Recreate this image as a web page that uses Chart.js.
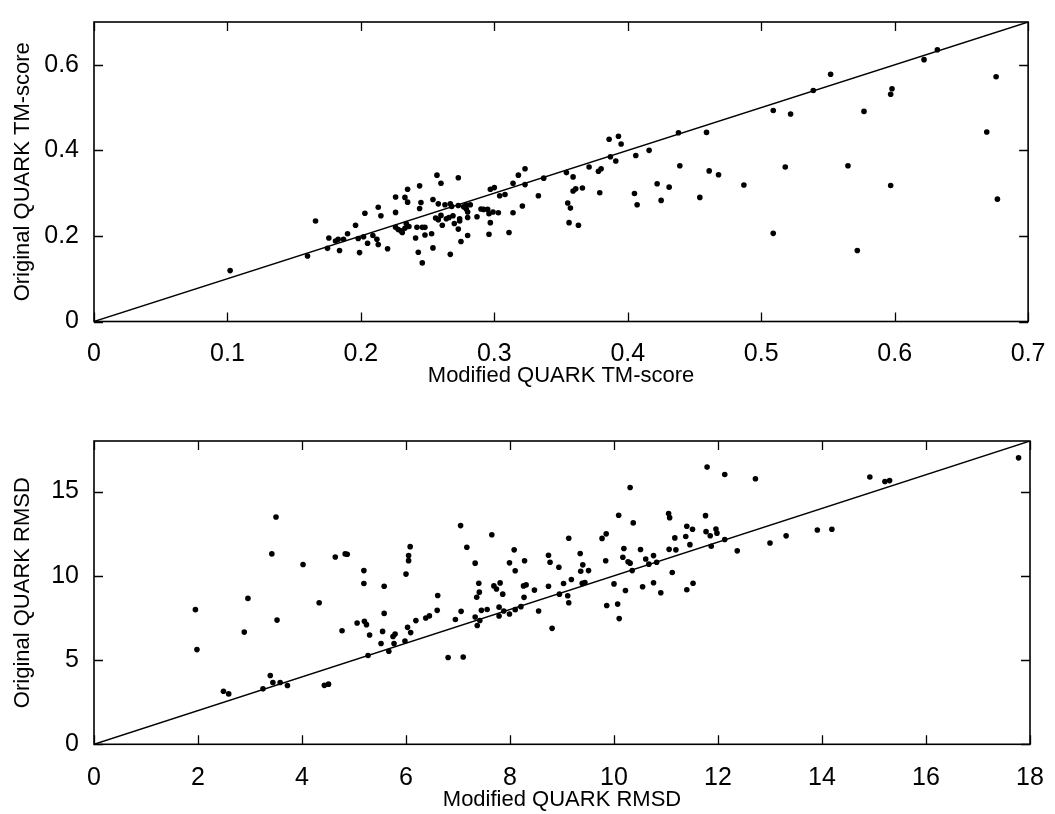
<!DOCTYPE html>
<html>
<head>
<meta charset="utf-8">
<script src="https://cdn.jsdelivr.net/npm/chart.js@4/dist/chart.umd.min.js"></script>
<style>
  html, body { margin: 0; padding: 0; background: #fff; }
  #wrap { position: relative; width: 1055px; height: 814px; background: #fff; }
  canvas { position: absolute; left: 0; }
</style>
</head>
<body>
<div id="wrap">
  <canvas id="top" width="1055" height="400" style="top:0px"></canvas>
  <canvas id="bottom" width="1055" height="414" style="top:400px"></canvas>
</div>
<script>
// ---------- TM-score panel ----------
const tmModified = [
  0.102,0.160,0.166,0.175,0.176,0.181,0.184,0.183,0.187,0.190,0.196,0.198,0.199,0.202,0.203,0.205,0.209,0.212,0.213,0.213,
  0.215,0.220,0.226,0.226,0.226,0.228,0.230,0.231,0.233,0.233,0.235,0.235,0.234,0.236,0.241,0.243,0.244,0.245,0.244,0.242,
  0.246,0.248,0.246,0.248,0.253,0.254,0.254,0.256,0.258,0.257,0.258,0.260,0.260,0.261,0.263,0.264,0.266,0.267,0.267,0.268,
  0.269,0.270,0.273,0.273,0.273,0.274,0.274,0.275,0.277,0.279,0.279,0.280,0.280,0.282,0.280,0.287,0.290,0.292,0.295,0.296,
  0.297,0.296,0.297,0.300,0.299,0.303,0.304,0.308,0.311,0.314,0.314,0.318,0.321,0.323,0.323,0.333,0.337,0.354,0.355,0.356,
  0.357,0.359,0.359,0.361,0.363,0.366,0.371,0.378,0.380,0.379,0.386,0.387,0.391,0.393,0.395,0.405,0.406,0.407,0.416,0.422,
  0.425,0.431,0.438,0.439,0.454,0.459,0.461,0.468,0.487,0.509,0.509,0.518,0.522,0.539,0.552,0.565,0.572,0.577,0.597,0.597,
  0.598,0.622,0.632,0.669,0.676,0.677
];
const tmOriginal = [
  0.119,0.153,0.235,0.171,0.195,0.188,0.166,0.192,0.192,0.205,0.225,0.194,0.161,0.198,0.253,0.183,0.201,0.192,0.267,0.180,
  0.247,0.170,0.291,0.255,0.220,0.215,0.212,0.208,0.218,0.290,0.309,0.279,0.229,0.222,0.195,0.162,0.317,0.278,0.264,0.220,
  0.220,0.220,0.137,0.202,0.205,0.285,0.172,0.242,0.238,0.342,0.275,0.323,0.248,0.225,0.273,0.240,0.243,0.157,0.275,0.269,
  0.247,0.229,0.216,0.336,0.271,0.240,0.235,0.187,0.268,0.272,0.263,0.256,0.243,0.273,0.201,0.245,0.263,0.262,0.262,0.252,
  0.231,0.204,0.309,0.313,0.256,0.254,0.294,0.297,0.208,0.323,0.254,0.342,0.270,0.357,0.320,0.294,0.335,0.348,0.277,0.231,
  0.265,0.338,0.305,0.310,0.225,0.312,0.361,0.351,0.357,0.301,0.426,0.385,0.375,0.433,0.415,0.299,0.388,0.273,0.400,0.322,
  0.283,0.314,0.441,0.364,0.290,0.442,0.352,0.343,0.319,0.206,0.493,0.361,0.485,0.540,0.578,0.364,0.166,0.491,0.318,0.531,
  0.544,0.612,0.635,0.443,0.572,0.286
];
const tmDiagonal = [0, 0.7];
const tmTicksX = [0, 0.1, 0.2, 0.3, 0.4, 0.5, 0.6, 0.7];
const tmTicksY = [0, 0.2, 0.4, 0.6];
const tmRange = [0, 0.7];

// ---------- RMSD panel ----------
const rmsdModified = [
  1.95,1.98,2.49,2.59,2.89,2.96,3.25,3.39,3.42,3.44,3.50,3.52,3.58,3.72,4.02,4.33,4.43,4.51,4.64,4.77,
  4.83,4.87,5.06,5.19,5.19,5.20,5.24,5.27,5.30,5.52,5.55,5.58,5.58,5.67,5.75,5.79,5.77,5.98,6.00,6.03,
  6.05,6.05,6.08,6.09,6.19,6.38,6.45,6.60,6.61,6.81,6.95,7.05,7.06,7.10,7.17,7.33,7.33,7.37,7.42,7.36,
  7.40,7.41,7.45,7.56,7.65,7.69,7.74,7.79,7.79,7.81,7.86,7.88,7.99,7.99,8.08,8.10,8.10,8.21,8.26,8.31,
  8.27,8.28,8.47,8.55,8.74,8.74,8.77,8.81,8.94,8.95,9.03,9.11,9.13,9.13,9.18,9.35,9.36,9.40,9.39,9.44,
  9.51,9.77,9.85,9.84,9.86,10.00,10.07,10.09,10.10,10.17,10.19,10.22,10.27,10.31,10.31,10.35,10.37,10.51,10.55,10.61,
  10.67,10.76,10.76,10.82,10.90,11.05,11.07,11.06,11.12,11.17,11.19,11.38,11.40,11.40,11.46,11.51,11.52,11.76,11.77,11.79,
  11.85,11.87,11.96,11.98,12.13,12.13,12.37,12.72,13.00,13.31,13.91,14.19,14.92,15.21,15.30,17.78
];
const rmsdOriginal = [
  7.99,5.62,3.15,2.99,6.66,8.66,3.29,4.08,11.30,3.67,13.49,7.37,3.67,3.49,10.67,8.40,3.50,3.57,11.12,6.74,
  11.30,11.28,7.20,10.31,9.54,7.30,7.10,5.27,6.49,5.98,6.70,9.38,7.77,5.52,6.40,6.55,5.98,6.13,10.10,6.94,
  11.20,10.90,11.73,6.63,7.34,7.50,7.62,7.95,8.83,5.15,7.41,12.98,7.89,5.18,11.69,10.75,7.55,7.05,7.35,8.73,
  9.56,9.03,7.95,8.00,12.44,9.40,9.22,8.14,7.61,9.58,8.91,7.91,10.77,7.73,11.54,10.30,7.99,8.17,9.40,9.46,
  8.72,10.89,9.15,7.91,9.38,11.22,10.80,6.88,10.51,8.91,9.54,8.82,8.40,12.23,9.78,11.32,10.27,10.65,9.55,9.60,
  10.31,12.22,12.49,10.89,8.24,9.52,8.32,13.59,7.46,11.10,11.62,9.13,10.83,10.75,15.24,10.31,13.14,11.56,9.35,11.00,
  10.69,11.20,9.59,10.80,8.99,13.70,13.45,11.57,10.20,12.25,11.54,12.33,12.94,9.17,11.85,12.76,9.56,13.57,12.62,16.45,
  12.38,11.75,12.78,12.53,16.01,12.15,11.48,15.76,11.95,12.37,12.72,12.76,15.86,15.60,15.65,17.00
];
const rmsdDiagonal = [0, 18];
const rmsdTicksX = [0, 2, 4, 6, 8, 10, 12, 14, 16, 18];
const rmsdTicksY = [0, 5, 10, 15];
const rmsdRange = [0, 18];

// ---------- helpers ----------
const FONT = "'Liberation Sans', Arial, Helvetica, sans-serif";

const boxPlugin = {
  id: 'boxTicks',
  afterDatasetsDraw(chart) {
    const { ctx, chartArea: a, scales } = chart;
    const x = scales.x, y = scales.y;
    const L = 9;
    ctx.save();
    ctx.strokeStyle = '#000';
    ctx.lineWidth = 1.3;
    ctx.beginPath();
    x.ticks.forEach(t => {
      const px = Math.round(x.getPixelForValue(t.value)) + 0.5;
      ctx.moveTo(px, a.bottom); ctx.lineTo(px, a.bottom - L);
      ctx.moveTo(px, a.top); ctx.lineTo(px, a.top + L);
    });
    y.ticks.forEach(t => {
      const py = Math.round(y.getPixelForValue(t.value)) + 0.5;
      ctx.moveTo(a.left, py); ctx.lineTo(a.left + L, py);
      ctx.moveTo(a.right, py); ctx.lineTo(a.right - L, py);
    });
    ctx.stroke();
    ctx.lineWidth = 1.6;
    ctx.strokeRect(a.left, a.top, a.right - a.left, a.bottom - a.top);
    ctx.restore();
  }
};

function makeChart(id, xs, ys, diag, range, ticksX, ticksY, xTitle, yTitle, lay) {
  const pts = xs.map((v, i) => ({ x: v, y: ys[i] }));
  const diagPts = diag.map(v => ({ x: v, y: v }));
  return new Chart(document.getElementById(id), {
    type: 'scatter',
    data: {
      datasets: [
        {
          type: 'line',
          data: diagPts,
          borderColor: '#000',
          borderWidth: 1.4,
          pointRadius: 0,
          fill: false,
          tension: 0
        },
        {
          data: pts,
          backgroundColor: '#000',
          borderWidth: 0,
          pointRadius: 2.8,
          pointHoverRadius: 2.8
        }
      ]
    },
    options: {
      responsive: false,
      animation: false,
      devicePixelRatio: 1,
      layout: { padding: { top: lay.top, right: 25, left: 0, bottom: 0 } },
      plugins: { legend: { display: false }, tooltip: { enabled: false } },
      scales: {
        x: {
          type: 'linear',
          min: range[0], max: range[1],
          grid: { display: false },
          border: { display: false },
          afterBuildTicks: s => { s.ticks = ticksX.map(v => ({ value: v })); },
          afterFit: s => { s.height = lay.xh; },
          ticks: {
            color: '#000', padding: lay.tp,
            font: { family: FONT, size: 25 },
            maxRotation: 0, autoSkip: false,
            callback: v => String(v)
          },
          title: {
            display: true, text: xTitle, color: '#000',
            font: { family: FONT, size: 22 },
            padding: { top: 0, bottom: lay.titlePad }
          }
        },
        y: {
          type: 'linear',
          min: range[0], max: range[1],
          grid: { display: false },
          border: { display: false },
          afterBuildTicks: s => { s.ticks = ticksY.map(v => ({ value: v })); },
          afterFit: s => { s.width = 94; },
          ticks: {
            color: '#000', padding: 7,
            font: { family: FONT, size: 25 },
            autoSkip: false,
            callback: v => String(v)
          },
          title: {
            display: true, text: yTitle, color: '#000',
            font: { family: FONT, size: 22 },
            padding: { top: 10, bottom: 0 }
          }
        }
      }
    },
    plugins: [boxPlugin]
  });
}

makeChart('top', tmModified, tmOriginal, tmDiagonal, tmRange, tmTicksX, tmTicksY,
  'Modified QUARK TM-score', 'Original QUARK TM-score',
  { top: 16, xh: 78.5, tp: 9.5, titlePad: 11 });

makeChart('bottom', rmsdModified, rmsdOriginal, rmsdDiagonal, rmsdRange, rmsdTicksX, rmsdTicksY,
  'Modified QUARK RMSD', 'Original QUARK RMSD',
  { top: 41, xh: 69.7, tp: 10.5, titlePad: 1 });
</script>
</body>
</html>
